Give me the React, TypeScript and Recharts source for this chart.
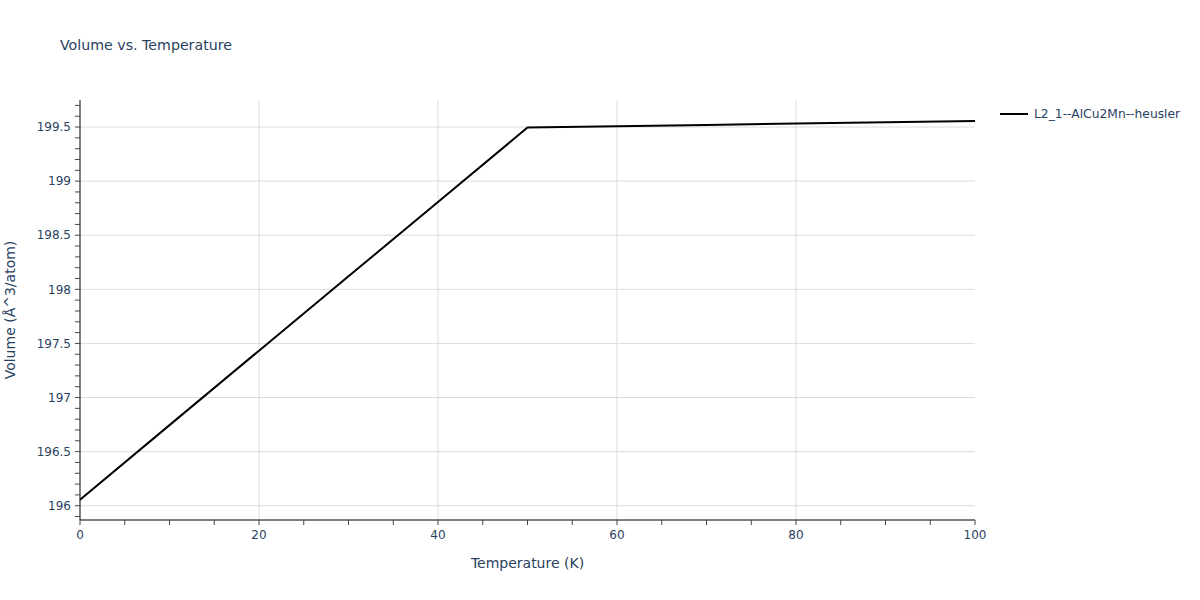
import React from "react";
import { LineChart, Line, XAxis, YAxis, ReferenceLine } from "recharts";

// Temperature (K)
const temperatures = [0, 10, 20, 30, 40, 50, 60, 70, 80, 90, 100];
// Volume (Å^3/atom)
const volumes = [196.056, 196.745, 197.433, 198.12, 198.808, 199.495, 199.507, 199.519, 199.532, 199.544, 199.556];

const seriesName = "L2_1--AlCu2Mn--heusler";
// grid lines
const xGridTicks = [20, 40, 60, 80];
const yGridTicks = [196, 196.5, 197, 197.5, 198, 198.5, 199, 199.5];
// tick marks (labels only on major ones)
const xTickMarks = [0, 5, 10, 15, 20, 25, 30, 35, 40, 45, 50, 55, 60, 65, 70, 75, 80, 85, 90, 95, 100];
const yTickMarks = [
  195.9, 196, 196.1, 196.2, 196.3, 196.4, 196.5, 196.6, 196.7, 196.8, 196.9, 197, 197.1, 197.2,
  197.3, 197.4, 197.5, 197.6, 197.7, 197.8, 197.9, 198, 198.1, 198.2, 198.3, 198.4, 198.5, 198.6,
  198.7, 198.8, 198.9, 199, 199.1, 199.2, 199.3, 199.4, 199.5, 199.6, 199.7,
];

const data = temperatures.map((t, i) => ({ t, v: volumes[i] }));

const FONT = "'DejaVu Sans', Verdana, sans-serif";
const TEXT = "#2a3f5f";
const GRID = "#dcdcdc";

const xLabel = (v: number) => (v % 20 === 0 ? String(v) : "");
const yLabel = (v: number) => (Math.abs(v * 2 - Math.round(v * 2)) < 1e-6 ? String(Math.round(v * 2) / 2) : "");

const App = () => {
  return (
    <div style={{ position: "fixed", left: 0, top: 0, width: 1200, height: 600, background: "#fff" }}>
      <div style={{ position: "absolute", left: 60, top: 37, fontFamily: FONT, fontSize: 14.2, color: TEXT }}>
        Volume vs. Temperature
      </div>

      {/* legend */}
      <div
        style={{
          position: "absolute", left: 998, top: 106, display: "flex", alignItems: "center",
          fontFamily: FONT, fontSize: 12.3, color: TEXT, whiteSpace: "nowrap",
        }}
      >
        <svg width={36} height={16}>
          <line x1={2} y1={8} x2={30} y2={8} stroke="#000" strokeWidth={2} />
        </svg>
        <span>{seriesName}</span>
      </div>

      <LineChart width={1200} height={600} data={data} margin={{ top: 100, right: 225, bottom: 0, left: 0 }}>
        {xGridTicks.map((t) => (
          <ReferenceLine key={"gx" + t} x={t} stroke={GRID} strokeWidth={1} zIndex={-100} />
        ))}
        {yGridTicks.map((t) => (
          <ReferenceLine key={"gy" + t} y={t} stroke={GRID} strokeWidth={1} zIndex={-100} />
        ))}
        <XAxis
          dataKey="t"
          type="number"
          domain={[0, 100]}
          ticks={xTickMarks}
          interval={0}
          tickFormatter={xLabel}
          tickLine={{ stroke: "#444" }}
          tickSize={5}
          tickMargin={5}
          axisLine={{ stroke: "#000", strokeWidth: 1 }}
          tick={{ fill: TEXT, fontSize: 12, fontFamily: FONT }}
          height={80}
          label={{ value: "Temperature (K)", position: "insideTop", offset: 38, fill: TEXT, fontSize: 14, fontFamily: FONT }}
        />
        <YAxis
          type="number"
          domain={[195.868, 199.75]}
          ticks={yTickMarks}
          interval={0}
          tickFormatter={yLabel}
          allowDataOverflow
          tickLine={{ stroke: "#444" }}
          tickSize={5}
          tickMargin={4}
          axisLine={{ stroke: "#000", strokeWidth: 1 }}
          tick={{ fill: TEXT, fontSize: 12, fontFamily: FONT }}
          width={80}
          label={{ value: "Volume (Å^3/atom)", angle: -90, position: "insideLeft", offset: 10, fill: TEXT, fontSize: 14, fontFamily: FONT, style: { textAnchor: "middle" } }}
        />
        <Line
          dataKey="v"
          name={seriesName}
          stroke="#000"
          strokeWidth={2}
          dot={false}
          activeDot={false}
          isAnimationActive={false}
        />
      </LineChart>
    </div>
  );
};

export default App;
